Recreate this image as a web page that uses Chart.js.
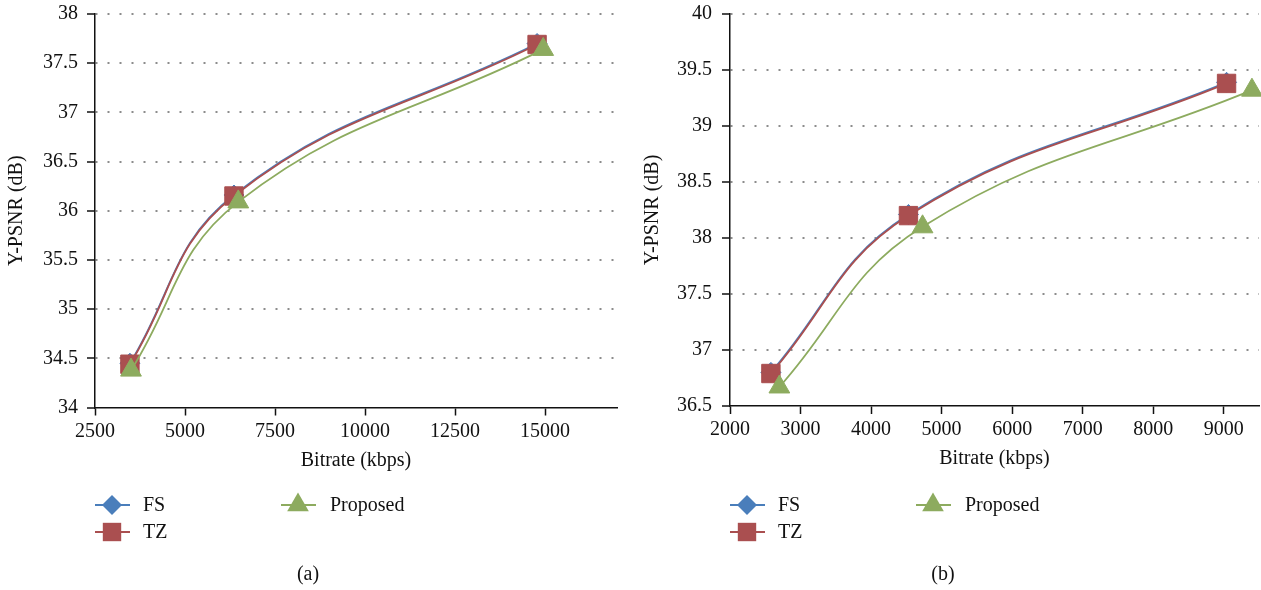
<!DOCTYPE html>
<html>
<head>
<meta charset="utf-8">
<script src="https://cdn.jsdelivr.net/npm/chart.js@4.4.1/dist/chart.umd.min.js"></script>
<style>
  html, body { margin: 0; background: #fff; overflow: hidden; }
  .panel { position: absolute; top: 0; height: 590px; }
  #panelA { left: 0; width: 630px; }
  #panelB { left: 630px; width: 631px; }
</style>
</head>
<body>
<div class="panel" id="panelA"><canvas id="chartA"></canvas></div>
<div class="panel" id="panelB"><canvas id="chartB"></canvas></div>
<script>
// series names + colours
const seriesNames = ['FS', 'TZ', 'Proposed'];
const seriesColors = ['#4A7EBB', '#AA4F50', '#8DAB5F'];
const pointStyles = ['rectRot', 'rect', 'triangle'];
const pointSizes = [10, 13, 12];

// (a) bitrate (kbps) / Y-PSNR (dB)
const bitrateA_FS = [3470, 6360, 14780];
const psnrA_FS = [34.45, 36.16, 37.70];
const bitrateA_TZ = [3470, 6360, 14780];
const psnrA_TZ = [34.44, 36.15, 37.69];
const bitrateA_Prop = [3500, 6480, 14950];
const psnrA_Prop = [34.38, 36.09, 37.64];
const xTicksA = [2500, 5000, 7500, 10000, 12500, 15000];
const yTicksA = [34, 34.5, 35, 35.5, 36, 36.5, 37, 37.5, 38];

// (b)
const bitrateB_FS = [2580, 4530, 9040];
const psnrB_FS = [36.80, 38.21, 39.39];
const bitrateB_TZ = [2580, 4530, 9040];
const psnrB_TZ = [36.79, 38.20, 39.38];
const bitrateB_Prop = [2700, 4730, 9400];
const psnrB_Prop = [36.67, 38.10, 39.32];
const xTicksB = [2000, 3000, 4000, 5000, 6000, 7000, 8000, 9000];
const yTicksB = [36.5, 37, 37.5, 38, 38.5, 39, 39.5, 40];

const SERIF = '"Liberation Serif", "Times New Roman", serif';

function pts(xs, ys) {
  return xs.map((x, i) => ({ x: x, y: ys[i] }));
}

function drawMarker(ctx, style, x, y, r, color) {
  ctx.fillStyle = color;
  ctx.beginPath();
  if (style === 'rectRot') {
    ctx.moveTo(x - r, y);
    ctx.lineTo(x, y - r);
    ctx.lineTo(x + r, y);
    ctx.lineTo(x, y + r);
  } else if (style === 'rect') {
    const s = r * Math.SQRT1_2;
    ctx.rect(x - s, y - s, 2 * s, 2 * s);
  } else {
    const h = r * Math.sqrt(3) / 2;
    ctx.moveTo(x, y - r);
    ctx.lineTo(x + h, y + r / 2);
    ctx.lineTo(x - h, y + r / 2);
  }
  ctx.closePath();
  ctx.fill();
}

// legend in two columns + caption under the plot
const legendPlugin = {
  id: 'sideLegend',
  afterDraw(chart, args, opts) {
    const ctx = chart.ctx;
    const left = chart.chartArea.left;
    const slots = [
      { col: 0, row: 0 },
      { col: 0, row: 1 },
      { col: 1, row: 0 }
    ];
    const colMarker = [17, 203];
    const colText = [48, 235];
    const rowY = [505, 532];
    const legendSizes = [10, 13, 12.5];
    ctx.save();
    ctx.font = '20px ' + SERIF;
    ctx.textBaseline = 'middle';
    ctx.textAlign = 'left';
    seriesNames.forEach((name, i) => {
      const mx = left + colMarker[slots[i].col];
      const y = rowY[slots[i].row];
      ctx.strokeStyle = seriesColors[i];
      ctx.lineWidth = 2;
      ctx.beginPath();
      ctx.moveTo(mx - 17, y);
      ctx.lineTo(mx + 18, y);
      ctx.stroke();
      drawMarker(ctx, pointStyles[i], mx, y, legendSizes[i], seriesColors[i]);
      ctx.fillStyle = '#111';
      ctx.fillText(name, left + colText[slots[i].col], y + 1);
    });
    ctx.textAlign = 'center';
    ctx.fillText(opts.caption, left + 213, 575);
    ctx.restore();
  }
};

function makeChart(id, series, axes) {
  const datasets = series.map((s, i) => ({
    label: seriesNames[i],
    data: s,
    borderColor: seriesColors[i],
    backgroundColor: seriesColors[i],
    borderWidth: 1.8,
    tension: 0.42,
    clip: false,
    pointStyle: pointStyles[i],
    pointRadius: pointSizes[i],
    pointBorderWidth: 1,
    pointBorderColor: seriesColors[i],
    pointBackgroundColor: seriesColors[i],
    order: 2 - i
  }));

  return new Chart(document.getElementById(id), {
    type: 'line',
    data: { datasets: datasets },
    plugins: [legendPlugin],
    options: {
      responsive: true,
      maintainAspectRatio: false,
      animation: false,
      events: [],
      layout: {
        autoPadding: false,
        padding: { left: 0, right: axes.padRight, top: 14, bottom: axes.padBottom }
      },
      plugins: {
        legend: { display: false },
        tooltip: { enabled: false },
        sideLegend: { caption: axes.caption }
      },
      scales: {
        x: {
          type: 'linear',
          min: axes.xMin,
          max: axes.xMax,
          afterBuildTicks: sc => { sc.ticks = axes.xTicks.map(v => ({ value: v })); },
          afterFit: sc => {
            sc.height = 65;
            sc.paddingLeft = 0;
            sc.paddingRight = 0;
          },
          ticks: {
            color: '#111',
            padding: 4,
            maxRotation: 0,
            autoSkip: false,
            font: { family: SERIF, size: 20 },
            callback: v => String(v)
          },
          grid: {
            drawOnChartArea: false,
            drawTicks: true,
            tickLength: 8,
            tickColor: '#111',
            tickWidth: 1.5
          },
          border: { display: true, color: '#111', width: 1.5 },
          title: {
            display: true,
            text: 'Bitrate (kbps)',
            color: '#111',
            padding: 0,
            font: { family: SERIF, size: 20 }
          }
        },
        y: {
          min: axes.yMin,
          max: axes.yMax,
          afterBuildTicks: sc => { sc.ticks = axes.yTicks.map(v => ({ value: v })); },
          afterFit: sc => {
            sc.width = axes.yWidth;
            sc.paddingTop = 0;
            sc.paddingBottom = 0;
          },
          ticks: {
            color: '#111',
            padding: axes.yTickPad,
            autoSkip: false,
            font: { family: SERIF, size: 20 },
            callback: v => String(v)
          },
          grid: {
            color: c => (c.tick && c.tick.value === axes.yMin) ? 'rgba(0,0,0,0)' : '#8c8c8c',
            lineWidth: 2,
            drawTicks: true,
            tickLength: 8,
            tickColor: '#111',
            tickWidth: 1.5
          },
          border: { display: true, color: '#111', width: 1.5, dash: [2, 10] },
          title: {
            display: true,
            text: 'Y-PSNR (dB)',
            color: '#111',
            padding: { top: axes.yTitlePad, bottom: 0 },
            font: { family: SERIF, size: 20 }
          }
        }
      }
    }
  });
}

makeChart('chartA', [
  pts(bitrateA_FS, psnrA_FS),
  pts(bitrateA_TZ, psnrA_TZ),
  pts(bitrateA_Prop, psnrA_Prop)
], {
  xMin: 2500, xMax: 17000, xTicks: xTicksA,
  yMin: 34, yMax: 38, yTicks: yTicksA,
  yWidth: 95, yTickPad: 9, yTitlePad: 5,
  padRight: 13, padBottom: 117.5,
  caption: '(a)'
});

makeChart('chartB', [
  pts(bitrateB_FS, psnrB_FS),
  pts(bitrateB_TZ, psnrB_TZ),
  pts(bitrateB_Prop, psnrB_Prop)
], {
  xMin: 2000, xMax: 9500, xTicks: xTicksB,
  yMin: 36.5, yMax: 40, yTicks: yTicksB,
  yWidth: 100, yTickPad: 10, yTitlePad: 11,
  padRight: 2, padBottom: 119,
  caption: '(b)'
});
</script>
</body>
</html>
